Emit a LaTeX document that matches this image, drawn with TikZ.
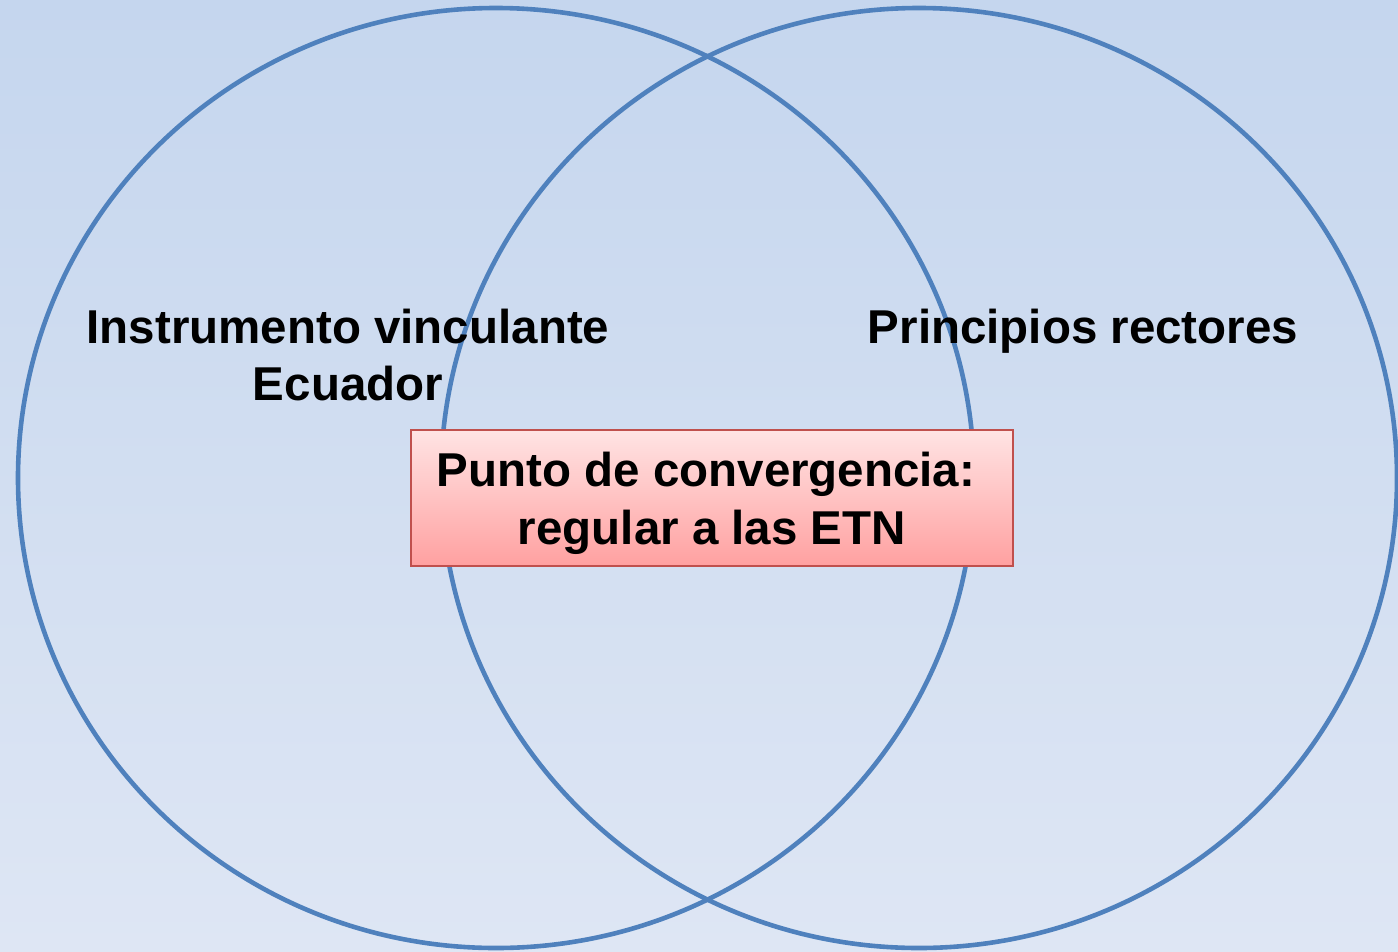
\documentclass[tikz,border=0pt]{standalone}
\usepackage{fontspec}
\setmainfont{Liberation Sans}
\usetikzlibrary{shapes.geometric}
\definecolor{bgtop}{RGB}{197,214,238}
\definecolor{bgbot}{RGB}{222,230,244}
\definecolor{ringblue}{RGB}{79,129,189}
\definecolor{boxtop}{RGB}{255,228,228}
\definecolor{boxbot}{RGB}{255,160,160}
\definecolor{boxline}{RGB}{192,80,77}
\begin{document}
\begin{tikzpicture}[x=1pt,y=-1pt,
  ring/.style={ellipse,draw=ringblue,line width=4.6pt,minimum width=956pt,minimum height=940pt,inner sep=0pt},
  label/.style={inner sep=0pt,align=center,font=\bfseries\fontsize{47.5}{57.5}\selectfont},
  convbox/.style={draw=boxline,line width=1.5pt,top color=boxtop,bottom color=boxbot,
    minimum width=602pt,minimum height=136pt,inner sep=0pt,align=center,
    font=\bfseries\fontsize{47.5}{57.5}\selectfont}]
\fill[top color=bgtop,bottom color=bgbot] (0,0) rectangle (1398,951);
\useasboundingbox (0,0) rectangle (1398,951);
\node[ring] (left) at (496,478) {};
\node[ring] (right) at (919,478) {};
\node[convbox] (conv) at (712,498) {\rule{0pt}{45pt}Punto de convergencia:\kern12pt\\regular a las ETN};
\node[label] (inst) at (348,355) {Instrumento vinculante\\Ecuador};
\node[label,anchor=base] (prin) at (1083,343) {Principios rectores};
\end{tikzpicture}
\end{document}
